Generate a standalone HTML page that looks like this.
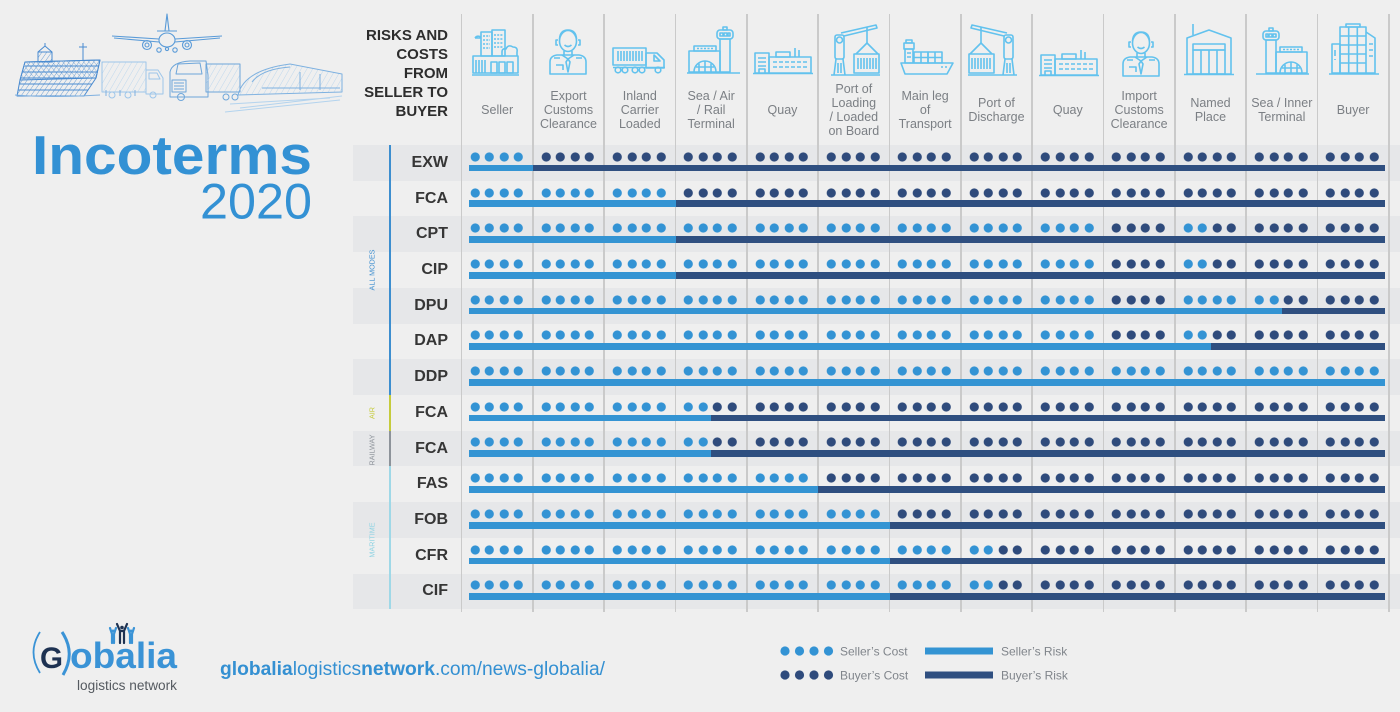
<!DOCTYPE html>
<html><head><meta charset="utf-8">
<style>
*{margin:0;padding:0;box-sizing:border-box}
html,body{width:1400px;height:712px;overflow:hidden;background:#efefef;font-family:"Liberation Sans",Arial,sans-serif;position:relative}
:root{
--l:radial-gradient(circle at 7.25px 5px,#3393d4 4.2px,rgba(51,147,212,0) 4.9px);
--d:radial-gradient(circle at 7.25px 5px,#2f4b7c 4.2px,rgba(47,75,124,0) 4.9px);
}
.band{position:absolute;left:353px;width:1047px;height:35.71px;background:#e6e7e9}
.sep{position:absolute;top:14px;width:1.6px;height:598px;background:#cacaca}
.lbl{position:absolute;right:952px;font-weight:bold;font-size:16px;color:#363636;line-height:20px}
.dots{position:absolute;left:461.5px;display:flex;height:10px}
.dots i{display:block;width:71.33px;height:10px;flex:none;background-size:14.5px 10px;background-repeat:no-repeat;background-position:6px 0,20.5px 0,35px 0,49.5px 0}
.L{background-image:var(--l),var(--l),var(--l),var(--l)}
.D{background-image:var(--d),var(--d),var(--d),var(--d)}
.H{background-image:var(--l),var(--l),var(--d),var(--d)}
.bl,.bd{position:absolute;height:6.8px}
.bl{background:#3494d3}
.bd{background:#2f4f80}
.ch{position:absolute;width:71.33px;text-align:center;font-size:12.5px;line-height:14px;color:#7b7f84}
.hd{position:absolute;right:952px;top:25.5px;text-align:right;font-weight:bold;font-size:15px;line-height:19px;color:#2d2d2d}
.gl{position:absolute;left:389.3px;width:1.5px}
svg{position:absolute;left:0;top:0}
</style></head><body>

<!-- bands -->
<div class="band" style="top:145px"></div>
<div class="band" style="top:216.42px"></div>
<div class="band" style="top:287.84px"></div>
<div class="band" style="top:359.26px"></div>
<div class="band" style="top:430.68px"></div>
<div class="band" style="top:502.1px"></div>
<div class="band" style="top:573.52px"></div>

<!-- separators -->
<div class="sep" style="left:460.7px"></div>
<div class="sep" style="left:532.03px"></div>
<div class="sep" style="left:603.36px"></div>
<div class="sep" style="left:674.69px"></div>
<div class="sep" style="left:746.02px"></div>
<div class="sep" style="left:817.35px"></div>
<div class="sep" style="left:888.68px"></div>
<div class="sep" style="left:960.01px"></div>
<div class="sep" style="left:1031.34px"></div>
<div class="sep" style="left:1102.67px"></div>
<div class="sep" style="left:1174px"></div>
<div class="sep" style="left:1245.33px"></div>
<div class="sep" style="left:1316.66px"></div>
<div class="sep" style="left:1387.99px"></div>

<!-- group lines -->
<div class="gl" style="top:145px;height:249.97px;background:#3d8ecf"></div>
<div class="gl" style="top:394.97px;height:35.71px;background:#c5cb3c"></div>
<div class="gl" style="top:430.68px;height:35.71px;background:#8d939a"></div>
<div class="gl" style="top:466.39px;height:142.84px;background:#9fd8e7"></div>

<!-- header text -->
<div class="hd">RISKS AND<br>COSTS<br>FROM<br>SELLER TO<br>BUYER</div>

<div class="ch" style="left:461.5px;top:103px">Seller</div>
<div class="ch" style="left:532.83px;top:89px">Export<br>Customs<br>Clearance</div>
<div class="ch" style="left:604.16px;top:89px">Inland<br>Carrier<br>Loaded</div>
<div class="ch" style="left:675.49px;top:89px">Sea / Air<br>/ Rail<br>Terminal</div>
<div class="ch" style="left:746.82px;top:103px">Quay</div>
<div class="ch" style="left:818.15px;top:82px">Port of<br>Loading<br>/ Loaded<br>on Board</div>
<div class="ch" style="left:889.48px;top:89px">Main leg<br>of<br>Transport</div>
<div class="ch" style="left:960.81px;top:96px">Port of<br>Discharge</div>
<div class="ch" style="left:1032.14px;top:103px">Quay</div>
<div class="ch" style="left:1103.47px;top:89px">Import<br>Customs<br>Clearance</div>
<div class="ch" style="left:1174.8px;top:96px">Named<br>Place</div>
<div class="ch" style="left:1246.13px;top:96px">Sea / Inner<br>Terminal</div>
<div class="ch" style="left:1317.46px;top:103px">Buyer</div>

<!-- row labels -->
<div class="lbl" style="top:152.85px">EXW</div>
<div class="lbl" style="top:188.56px">FCA</div>
<div class="lbl" style="top:224.27px">CPT</div>
<div class="lbl" style="top:259.98px">CIP</div>
<div class="lbl" style="top:295.69px">DPU</div>
<div class="lbl" style="top:331.4px">DAP</div>
<div class="lbl" style="top:367.11px">DDP</div>
<div class="lbl" style="top:402.82px">FCA</div>
<div class="lbl" style="top:438.53px">FCA</div>
<div class="lbl" style="top:474.24px">FAS</div>
<div class="lbl" style="top:509.95px">FOB</div>
<div class="lbl" style="top:545.66px">CFR</div>
<div class="lbl" style="top:581.37px">CIF</div>

<!-- dots -->
<div class="dots" style="top:151.8px"><i class="L"></i><i class="D"></i><i class="D"></i><i class="D"></i><i class="D"></i><i class="D"></i><i class="D"></i><i class="D"></i><i class="D"></i><i class="D"></i><i class="D"></i><i class="D"></i><i class="D"></i></div>
<div class="dots" style="top:187.51px"><i class="L"></i><i class="L"></i><i class="L"></i><i class="D"></i><i class="D"></i><i class="D"></i><i class="D"></i><i class="D"></i><i class="D"></i><i class="D"></i><i class="D"></i><i class="D"></i><i class="D"></i></div>
<div class="dots" style="top:223.22px"><i class="L"></i><i class="L"></i><i class="L"></i><i class="L"></i><i class="L"></i><i class="L"></i><i class="L"></i><i class="L"></i><i class="L"></i><i class="D"></i><i class="H"></i><i class="D"></i><i class="D"></i></div>
<div class="dots" style="top:258.93px"><i class="L"></i><i class="L"></i><i class="L"></i><i class="L"></i><i class="L"></i><i class="L"></i><i class="L"></i><i class="L"></i><i class="L"></i><i class="D"></i><i class="H"></i><i class="D"></i><i class="D"></i></div>
<div class="dots" style="top:294.64px"><i class="L"></i><i class="L"></i><i class="L"></i><i class="L"></i><i class="L"></i><i class="L"></i><i class="L"></i><i class="L"></i><i class="L"></i><i class="D"></i><i class="L"></i><i class="H"></i><i class="D"></i></div>
<div class="dots" style="top:330.35px"><i class="L"></i><i class="L"></i><i class="L"></i><i class="L"></i><i class="L"></i><i class="L"></i><i class="L"></i><i class="L"></i><i class="L"></i><i class="D"></i><i class="H"></i><i class="D"></i><i class="D"></i></div>
<div class="dots" style="top:366.06px"><i class="L"></i><i class="L"></i><i class="L"></i><i class="L"></i><i class="L"></i><i class="L"></i><i class="L"></i><i class="L"></i><i class="L"></i><i class="L"></i><i class="L"></i><i class="L"></i><i class="L"></i></div>
<div class="dots" style="top:401.77px"><i class="L"></i><i class="L"></i><i class="L"></i><i class="H"></i><i class="D"></i><i class="D"></i><i class="D"></i><i class="D"></i><i class="D"></i><i class="D"></i><i class="D"></i><i class="D"></i><i class="D"></i></div>
<div class="dots" style="top:437.48px"><i class="L"></i><i class="L"></i><i class="L"></i><i class="H"></i><i class="D"></i><i class="D"></i><i class="D"></i><i class="D"></i><i class="D"></i><i class="D"></i><i class="D"></i><i class="D"></i><i class="D"></i></div>
<div class="dots" style="top:473.19px"><i class="L"></i><i class="L"></i><i class="L"></i><i class="L"></i><i class="L"></i><i class="D"></i><i class="D"></i><i class="D"></i><i class="D"></i><i class="D"></i><i class="D"></i><i class="D"></i><i class="D"></i></div>
<div class="dots" style="top:508.9px"><i class="L"></i><i class="L"></i><i class="L"></i><i class="L"></i><i class="L"></i><i class="L"></i><i class="D"></i><i class="D"></i><i class="D"></i><i class="D"></i><i class="D"></i><i class="D"></i><i class="D"></i></div>
<div class="dots" style="top:544.61px"><i class="L"></i><i class="L"></i><i class="L"></i><i class="L"></i><i class="L"></i><i class="L"></i><i class="L"></i><i class="H"></i><i class="D"></i><i class="D"></i><i class="D"></i><i class="D"></i><i class="D"></i></div>
<div class="dots" style="top:580.32px"><i class="L"></i><i class="L"></i><i class="L"></i><i class="L"></i><i class="L"></i><i class="L"></i><i class="L"></i><i class="H"></i><i class="D"></i><i class="D"></i><i class="D"></i><i class="D"></i><i class="D"></i></div>

<!-- bars -->
<div class="bl" style="top:164.7px;left:469px;width:63.8px"></div><div class="bd" style="top:164.7px;left:532.8px;width:852.2px"></div>
<div class="bl" style="top:200.41px;left:469px;width:206.5px"></div><div class="bd" style="top:200.41px;left:675.5px;width:709.5px"></div>
<div class="bl" style="top:236.12px;left:469px;width:206.5px"></div><div class="bd" style="top:236.12px;left:675.5px;width:709.5px"></div>
<div class="bl" style="top:271.83px;left:469px;width:206.5px"></div><div class="bd" style="top:271.83px;left:675.5px;width:709.5px"></div>
<div class="bl" style="top:307.54px;left:469px;width:812.8px"></div><div class="bd" style="top:307.54px;left:1281.8px;width:103.2px"></div>
<div class="bl" style="top:343.25px;left:469px;width:741.5px"></div><div class="bd" style="top:343.25px;left:1210.5px;width:174.5px"></div>
<div class="bl" style="top:378.96px;left:469px;width:916px"></div>
<div class="bl" style="top:414.67px;left:469px;width:242.2px"></div><div class="bd" style="top:414.67px;left:711.2px;width:673.8px"></div>
<div class="bl" style="top:450.38px;left:469px;width:242.2px"></div><div class="bd" style="top:450.38px;left:711.2px;width:673.8px"></div>
<div class="bl" style="top:486.09px;left:469px;width:349.2px"></div><div class="bd" style="top:486.09px;left:818.2px;width:566.8px"></div>
<div class="bl" style="top:521.8px;left:469px;width:420.5px"></div><div class="bd" style="top:521.8px;left:889.5px;width:495.5px"></div>
<div class="bl" style="top:557.51px;left:469px;width:420.5px"></div><div class="bd" style="top:557.51px;left:889.5px;width:495.5px"></div>
<div class="bl" style="top:593.22px;left:469px;width:420.5px"></div><div class="bd" style="top:593.22px;left:889.5px;width:495.5px"></div>

<svg width="1400" height="712" viewBox="0 0 1400 712" xmlns="http://www.w3.org/2000/svg">
<defs>
<pattern id="ch1" width="4" height="4" patternUnits="userSpaceOnUse" patternTransform="rotate(35)"><path d="M0 0 V4" stroke="#4a8bd0" stroke-width="0.8"/></pattern>
<pattern id="ch2" width="4" height="4" patternUnits="userSpaceOnUse" patternTransform="rotate(-40)"><path d="M0 0 V4" stroke="#4a8bd0" stroke-width="0.6"/></pattern>
<pattern id="ch3" width="5" height="5" patternUnits="userSpaceOnUse" patternTransform="rotate(30)"><path d="M0 0 V5" stroke="#a9cdeb" stroke-width="0.7"/></pattern>
<g id="person" fill="none" stroke="#62c2ee" stroke-width="1.6" stroke-linejoin="round">
<ellipse cx="19" cy="14" rx="8.5" ry="10.5"/>
<path d="M10.5 12 Q11 3 19 3 Q27 3 27.5 12"/>
<path d="M9 13 h-2 v5 h2 M29 13 h2 v5 h-2"/>
<path d="M15.5 18 Q19 21 22.5 18"/>
<path d="M15 24 V28 M23 24 V28"/>
<path d="M1 47 V35 Q1 29 8 28 H30 Q37 29 37 35 V47 Z"/>
<path d="M13 28 L19 32 L25 28 M19 32 L17 35 L19 45 L21 35 Z"/>
<path d="M5 31 h6 M27 31 h6 M7 38 h7 v5"/>
</g>
<g id="quay" fill="none" stroke="#62c2ee" stroke-width="1.6">
<rect x="0" y="6" width="14" height="20"/>
<path d="M3 11 h8 M3 15 h8 M3 19 h8 M4 26 v-4 h6 v4"/>
<rect x="14" y="10" width="42" height="16"/>
<rect x="21" y="5" width="14" height="5"/>
<path d="M40 1 V10 M44 3 V10"/>
<path d="M18 15 H52 M18 20 H52" stroke-dasharray="4 2"/>
<path d="M-2 26.5 H58"/>
</g>
<g id="term" fill="none" stroke="#62c2ee" stroke-width="1.6" stroke-linejoin="round">
<rect x="35" y="0" width="4" height="3"/>
<rect x="29" y="3" width="16" height="9" rx="3"/>
<path d="M32 6 h3 v3 h-3z M36 6 h3 v3 h-3z M40 6 h2 v3 h-2z"/>
<rect x="32" y="12" width="10" height="33"/>
<rect x="1" y="24" width="31" height="21"/>
<rect x="6" y="19" width="22" height="5"/>
<path d="M9 21.5 h16" stroke-dasharray="2 1.5"/>
<path d="M6 45 A11 11 0 0 1 28 45 M17 34 V45 M8 40 H26 M11 36.5 V45 M23 36.5 V45"/>
<path d="M-1 46 H52"/>
</g>
<g id="crane" fill="none" stroke="#62c2ee" stroke-width="1.6" stroke-linejoin="round">
<rect x="3" y="10" width="9" height="24" rx="2"/>
<circle cx="7.5" cy="15" r="3"/>
<path d="M4 34 L2 50 M11 34 L13 50 M6 38 V48 M9 38 V48"/>
<path d="M9 8 L44 0 L45 3 L12 11"/>
<path d="M35 2 V18"/>
<path d="M35 18 L24 29 M35 18 L46 29"/>
<rect x="22" y="29" width="25" height="19"/>
<path d="M26 33 V44 M29 33 V44 M32 33 V44 M35 33 V44 M38 33 V44 M41 33 V44 M44 33 V44"/>
<path d="M-1 50 H48"/>
</g>
</defs>

<!-- vertical group labels -->
<text transform="translate(374.3,270) rotate(-90)" text-anchor="middle" font-size="7.2" fill="#3d8ecf" font-family="Liberation Sans, Arial, sans-serif">ALL MODES</text>
<text transform="translate(374.3,413) rotate(-90)" text-anchor="middle" font-size="7.2" fill="#c5cb3c" font-family="Liberation Sans, Arial, sans-serif">AIR</text>
<text transform="translate(374.3,450) rotate(-90)" text-anchor="middle" font-size="7.2" fill="#8d939a" font-family="Liberation Sans, Arial, sans-serif">RAILWAY</text>
<text transform="translate(374.3,540) rotate(-90)" text-anchor="middle" font-size="7.2" fill="#8fd3e3" font-family="Liberation Sans, Arial, sans-serif">MARITIME</text>

<!-- icons -->
<g fill="none" stroke="#62c2ee" stroke-width="1.6" stroke-linejoin="round">
 <!-- seller -->
 <g transform="translate(473,30)">
  <rect x="8" y="2" width="11" height="24"/><rect x="19" y="0" width="13" height="26"/>
  <path d="M2 8 Q4 5 8 7 M2 8 H8"/>
  <path d="M10 6 h7 M10 10 h7 M10 14 h7 M10 18 h7 M21 5 h9 M21 9 h9 M21 13 h9 M21 17 h9" stroke-dasharray="2 1.2"/>
  <path d="M29 26 V22 Q29 18 33 19 Q35 14 40 17 Q45 17 44 22 V26"/>
  <rect x="0" y="26" width="45" height="17"/>
  <path d="M3 30 V43 M6 30 V43 M9 30 V43 M12 30 V43"/>
  <rect x="18" y="32" width="6" height="11"/><rect x="26" y="32" width="6" height="11"/><rect x="34" y="32" width="6" height="11"/>
  <path d="M-1 45 H46"/>
 </g>
 <use href="#person" x="549" y="27"/>
 <!-- truck -->
 <g transform="translate(613,48)">
  <rect x="0" y="0" width="33" height="17"/>
  <path d="M5 3 V13 M8 3 V13 M11 3 V13 M14 3 V13 M17 3 V13 M20 3 V13 M23 3 V13 M26 3 V13 M29 3 V13"/>
  <path d="M33 5 H44 L51 12 V20 H33 Z M41 7 L47 13 H41 Z"/>
  <path d="M0 19.5 H52"/>
  <circle cx="5" cy="22" r="2.8"/><circle cx="12" cy="22" r="2.8"/><circle cx="22" cy="22" r="2.8"/><circle cx="29" cy="22" r="2.8"/><circle cx="45" cy="22" r="2.8"/>
 </g>
 <use href="#term" x="688" y="27"/>
 <use href="#quay" x="755" y="47"/>
 <use href="#crane" x="832" y="25"/>
 <!-- ship -->
 <g transform="translate(901,40)">
  <rect x="5" y="0" width="6" height="3"/><rect x="3" y="3" width="10" height="6"/><rect x="4" y="9" width="8" height="14"/>
  <path d="M6 13 h4 M6 17 h4"/>
  <rect x="13" y="12" width="14" height="11"/><rect x="27" y="12" width="14" height="11"/>
  <path d="M13 17.5 H41 M20 12 V23 M34 12 V23"/>
  <path d="M0 23 H52 L46 34 H4 Z"/>
  <path d="M40 27 h2 M44 27 h2"/>
 </g>
 <g transform="translate(1016,25) scale(-1,1)"><use href="#crane"/></g>
 <use href="#quay" x="1041" y="49"/>
 <use href="#person" x="1122" y="29"/>
 <!-- named place -->
 <g transform="translate(1185,24)">
  <path d="M8 0 V11"/>
  <path d="M2 14 L24 6 L46 14 V50 H2 Z"/>
  <rect x="8" y="20" width="32" height="6"/>
  <rect x="8" y="26" width="32" height="24"/>
  <path d="M16 26 V50 M24 26 V50 M32 26 V50"/>
  <path d="M-1 50.5 H49"/>
 </g>
 <g transform="translate(1308,28) scale(-1,1)"><use href="#term"/></g>
 <!-- buyer -->
 <g transform="translate(1330,24)">
  <rect x="16" y="0" width="14" height="3"/>
  <rect x="10" y="3" width="26" height="46"/>
  <path d="M18.7 3 V49 M27.3 3 V49 M10 12 H36 M10 21 H36 M10 30 H36 M10 39 H36"/>
  <rect x="2" y="20" width="8" height="29"/>
  <path d="M5 26 V32 M5 35 V36"/>
  <path d="M36 8 L45 14 V49 H36 M39 20 h4 M39 26 h4 M39 32 h4"/>
  <path d="M-1 50 H49"/>
 </g>
</g>

<!-- illustration -->
<g fill="none" stroke-linejoin="round">
 <!-- plane -->
 <g stroke="#5a9bd8" stroke-width="1.1">
  <path d="M167 14 L165 31 L169 31 Z"/>
  <path d="M157 31 H177"/>
  <path d="M112 36 L159 39 M175 39 L222 36 M114 38 L159 42 M175 42 L220 38"/>
  <ellipse cx="167" cy="40" rx="8" ry="7"/>
  <circle cx="147" cy="45" r="4.5"/><circle cx="187" cy="45" r="4.5"/>
  <circle cx="147" cy="45" r="2"/><circle cx="187" cy="45" r="2"/>
  <circle cx="159" cy="50" r="2.2"/><circle cx="175" cy="50" r="2.2"/><circle cx="167" cy="49" r="1.6"/>
 </g>
 <!-- ship -->
 <g stroke="#4a8bd0" stroke-width="1">
  <polygon points="17,96 20,80 25,62 100,60 96,78 84,96" fill="url(#ch1)"/>
  <polygon points="25,62 100,60 96,78 20,80" fill="url(#ch2)"/>
  <path d="M25 66 H99 M23 72 H98 M21 78 H96 M19 84 H92 M18 90 H88"/>
  <rect x="38" y="52" width="14" height="10" fill="url(#ch1)"/>
  <path d="M38 52 L45 46 L52 52 M45 43 V46 M83 43 V60 M79 47 H87"/>
  <path d="M15 95 Q50 98 100 95" stroke="#7fb0e0"/>
 </g>
 <!-- truck 1 -->
 <g stroke="#9ec6ea" stroke-width="1">
  <rect x="102" y="62" width="44" height="30" fill="url(#ch3)"/>
  <path d="M146 70 H158 L163 78 V94 H146 Z M149 73 H157 L160 79 H149 Z"/>
  <circle cx="112" cy="95" r="3"/><circle cx="128" cy="95" r="3"/><circle cx="153" cy="95" r="3"/>
  <path d="M106 90 v6 M120 90 v6 M135 90 v6" stroke="#7fb0e0"/>
 </g>
 <!-- truck 2 -->
 <g stroke="#6ea6da" stroke-width="1">
  <path d="M170 97 V72 Q172 62 190 61 L206 61 L208 75 V97 Z"/>
  <path d="M178 64 L200 63 L202 74 H176 Z"/>
  <rect x="172" y="80" width="14" height="12"/>
  <path d="M174 83 h10 M174 86 h10 M174 89 h10"/>
  <rect x="206" y="64" width="34" height="28" fill="url(#ch3)"/>
  <circle cx="181" cy="97" r="3.5"/><circle cx="226" cy="97" r="3"/><circle cx="235" cy="97" r="3"/>
 </g>
 <!-- train -->
 <g stroke="#7eb1e0" stroke-width="1">
  <path d="M238 95 Q244 70 290 64 L342 74 V92 Z" fill="url(#ch3)"/>
  <path d="M252 82 Q262 69 290 67 M262 88 H340 M300 72 V90 M320 74 V90"/>
  <path d="M225 112 L340 100 M240 108 L342 96 M230 104 L330 98" stroke="#b3d3ee"/>
 </g>
</g>

<!-- title -->
<text x="32" y="174" font-size="55" font-weight="bold" fill="#3391d4" textLength="280" lengthAdjust="spacingAndGlyphs" font-family="Liberation Sans, Arial, sans-serif">Incoterms</text>
<text x="200" y="218.5" font-size="50" fill="#3391d4" textLength="112" lengthAdjust="spacingAndGlyphs" font-family="Liberation Sans, Arial, sans-serif">2020</text>

<!-- legend -->
<g fill="#3393d4"><circle cx="785" cy="651" r="4.6"/><circle cx="799.5" cy="651" r="4.6"/><circle cx="814" cy="651" r="4.6"/><circle cx="828.5" cy="651" r="4.6"/></g>
<g fill="#2f4b7c"><circle cx="785" cy="675" r="4.6"/><circle cx="799.5" cy="675" r="4.6"/><circle cx="814" cy="675" r="4.6"/><circle cx="828.5" cy="675" r="4.6"/></g>
<rect x="925" y="647.5" width="68" height="7" fill="#3494d3"/>
<rect x="925" y="671.5" width="68" height="7" fill="#2f4f80"/>
<g font-size="12" fill="#80858b" font-family="Liberation Sans, Arial, sans-serif">
<text x="840" y="655.3">Seller’s Cost</text>
<text x="840" y="679.3">Buyer’s Cost</text>
<text x="1001" y="655.3">Seller’s Risk</text>
<text x="1001" y="679.3">Buyer’s Risk</text>
</g>

<!-- logo -->
<path d="M40 632 Q27 652 40 673" fill="none" stroke="#3a93d6" stroke-width="1.8"/>
<path d="M62 632 Q76 653 63 675" fill="none" stroke="#3a93d6" stroke-width="3"/>
<text x="40" y="668" font-size="30" font-weight="bold" fill="#1e3252" textLength="23" lengthAdjust="spacingAndGlyphs" font-family="Liberation Sans, Arial, sans-serif">G</text>
<text x="70" y="668" font-size="36" font-weight="bold" fill="#3a93d6" textLength="107" lengthAdjust="spacingAndGlyphs" font-family="Liberation Sans, Arial, sans-serif">obalia</text>
<text x="77" y="690" font-size="13.5" fill="#555a60" textLength="100" lengthAdjust="spacingAndGlyphs" font-family="Liberation Sans, Arial, sans-serif">logistics network</text>
<g stroke-linecap="round" fill="none" stroke-width="2.2">
 <g stroke="#1e3252"><circle cx="122" cy="627.5" r="1.8" fill="#1e3252" stroke="none"/><path d="M117 624 L120 631 V643 M127 624 L124 631 V643 M120 631 H124"/></g>
 <g stroke="#3a93d6"><circle cx="113" cy="631" r="1.5" fill="#3a93d6" stroke="none"/><path d="M110 628 L112 634 V643 M116 628 L114 634 V643"/>
 <circle cx="131" cy="631" r="1.5" fill="#3a93d6" stroke="none"/><path d="M128 628 L130 634 V643 M134 628 L132 634 V643"/></g>
</g>

<!-- website -->
<text x="220" y="675" font-size="19" fill="#3490d2" textLength="385" lengthAdjust="spacingAndGlyphs" font-family="Liberation Sans, Arial, sans-serif"><tspan font-weight="bold">globalia</tspan>logistics<tspan font-weight="bold">network</tspan>.com/news-globalia/</text>
</svg>
</body></html>
